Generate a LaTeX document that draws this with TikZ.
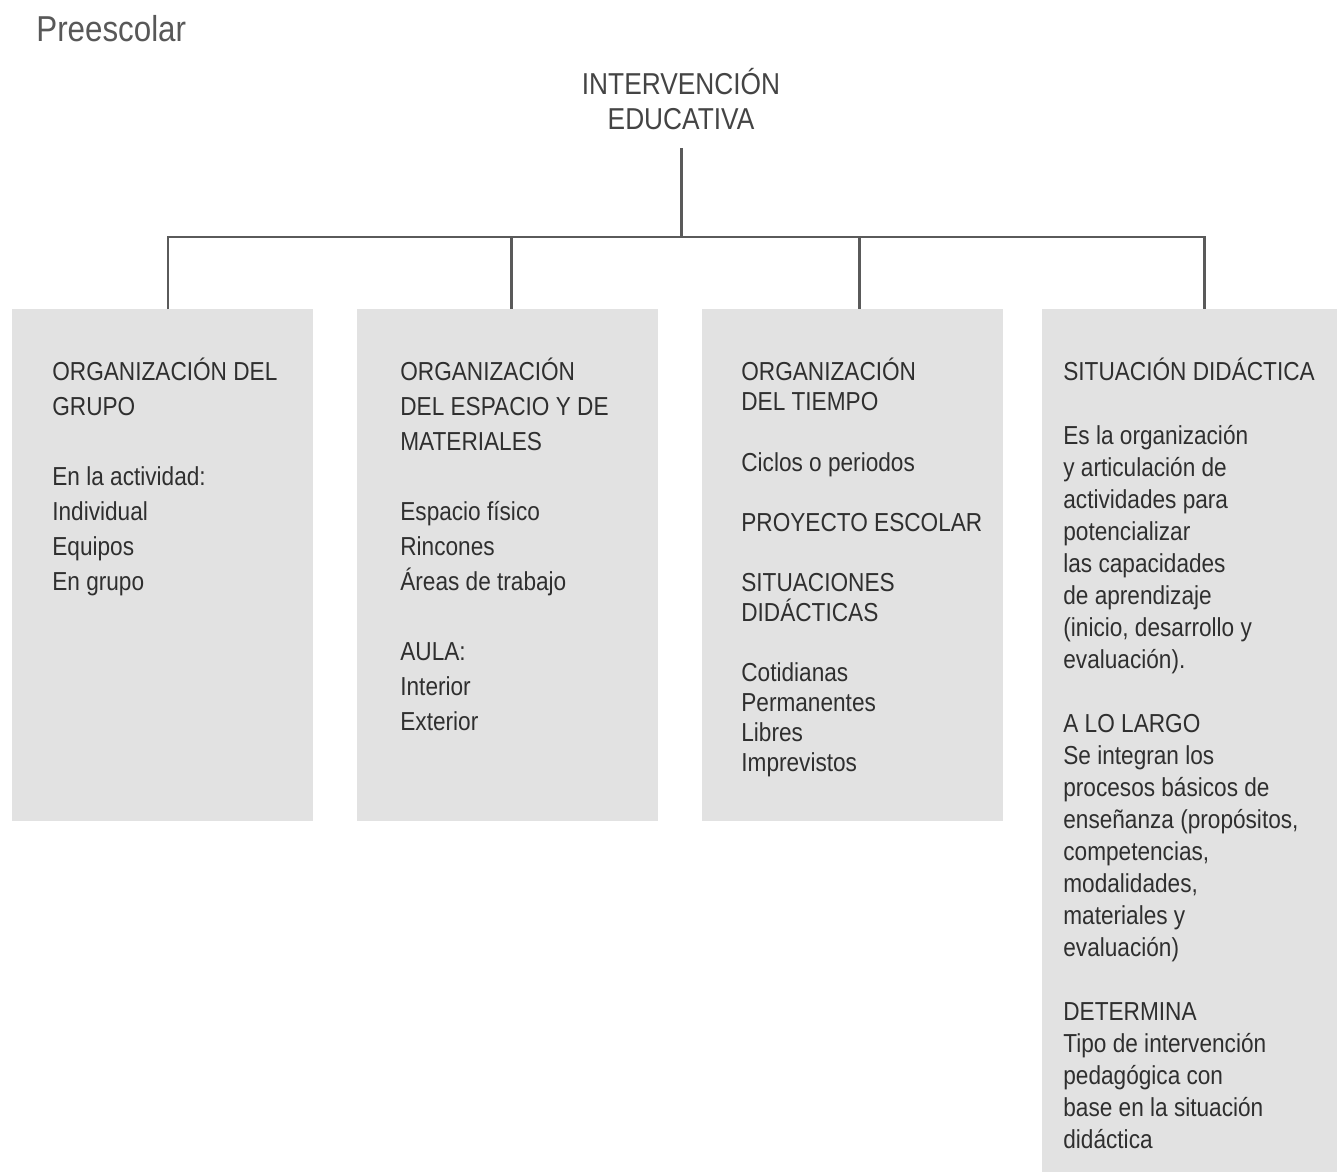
\documentclass[tikz,border=0pt]{standalone}
\usepackage{fontspec}
\usetikzlibrary{calc}
\usepackage{xcolor}

\newfontfamily\cond[FakeStretch=0.87]{Liberation Sans}
\definecolor{tinta}{HTML}{2F2F2F}
\definecolor{linea}{HTML}{5A5A5A}
\definecolor{cajagris}{HTML}{E2E2E2}

\tikzset{
  rama/.style={fill=cajagris, inner sep=0pt, anchor=north west, minimum width=6.02cm, minimum height=10.24cm},
  texto/.style={anchor=north west, inner sep=0pt, align=left, text=tinta},
  enlace/.style={draw=linea, line width=1.7pt},
}

\begin{document}
\begin{tikzpicture}[x=0.02cm,y=-0.02cm]
      \useasboundingbox (0,0) rectangle (1337,1172);

      % Titles
      \node[anchor=base west, inner sep=0pt, text=tinta!80,
        font=\cond\fontsize{20.5}{24}\selectfont] (nivel) at (36,42) {Preescolar};
      \node[anchor=north, inner xsep=0pt, inner ysep=0.36cm, align=center, text=tinta!90,
        font=\cond\fontsize{17.2}{19.9}\selectfont] (titulo) at (681,50)
        {INTERVENCIÓN\\EDUCATIVA};

      % Boxes
      \node[rama] (grupo) at (12,309) {};
      \node[rama] (espacio) at (357,309) {};
      \node[rama] (tiempo) at (702,309) {};
      \node[rama, minimum width=5.9cm, minimum height=17.26cm] (situacion) at (1042,309) {};

      % Box texts
      \node[texto, font=\cond\fontsize{14.8}{19.9}\selectfont] (grupotxt)
        at ($(grupo.north west)+(40,49)$)
        {ORGANIZACIÓN DEL\\GRUPO\\[19.9pt]
         En la actividad:\\Individual\\Equipos\\En grupo};
      \node[texto, font=\cond\fontsize{14.8}{19.9}\selectfont] (espaciotxt)
        at ($(espacio.north west)+(43,49)$)
        {ORGANIZACIÓN\\DEL ESPACIO Y DE\\MATERIALES\\[19.9pt]
         Espacio físico\\Rincones\\Áreas de trabajo\\[19.9pt]
         AULA:\\Interior\\Exterior};
      \node[texto, font=\cond\fontsize{14.8}{17.1}\selectfont] (tiempotxt)
        at ($(tiempo.north west)+(39,49)$)
        {ORGANIZACIÓN\\DEL TIEMPO\\[17.1pt]
         Ciclos o periodos\\[17.1pt]
         PROYECTO ESCOLAR\\[17.1pt]
         SITUACIONES\\DIDÁCTICAS\\[17.1pt]
         Cotidianas\\Permanentes\\Libres\\Imprevistos};
      \node[texto, font=\cond\fontsize{14.8}{18.2}\selectfont] (situaciontxt)
        at ($(situacion.north west)+(21,49)$)
        {SITUACIÓN DIDÁCTICA\\[18.2pt]
         Es la organización\\y articulación de\\actividades para\\potencializar\\
         las capacidades\\de aprendizaje\\(inicio, desarrollo y\\evaluación).\\[18.2pt]
         A LO LARGO\\Se integran los\\procesos básicos de\\enseñanza (propósitos,\\
         competencias,\\modalidades,\\materiales y\\evaluación)\\[18.2pt]
         DETERMINA\\Tipo de intervención\\pedagógica con\\base en la situación\\didáctica};

      % Connectors
      \coordinate (bus) at (681,237);
      \draw[enlace] (titulo.south) -- (bus);
      \foreach \caja/\x in {grupo/168,espacio/511,tiempo/859,situacion/1204}
      {
        \coordinate (baja\caja) at (\x,237);
      }
      \draw[enlace] (bajagrupo |- grupo.north) -- (bajagrupo) -- (bajasituacion)
        -- (bajasituacion |- situacion.north);
      \draw[enlace] (bajaespacio) -- (bajaespacio |- espacio.north);
      \draw[enlace] (bajatiempo) -- (bajatiempo |- tiempo.north);
  \end{tikzpicture}
\end{document}
